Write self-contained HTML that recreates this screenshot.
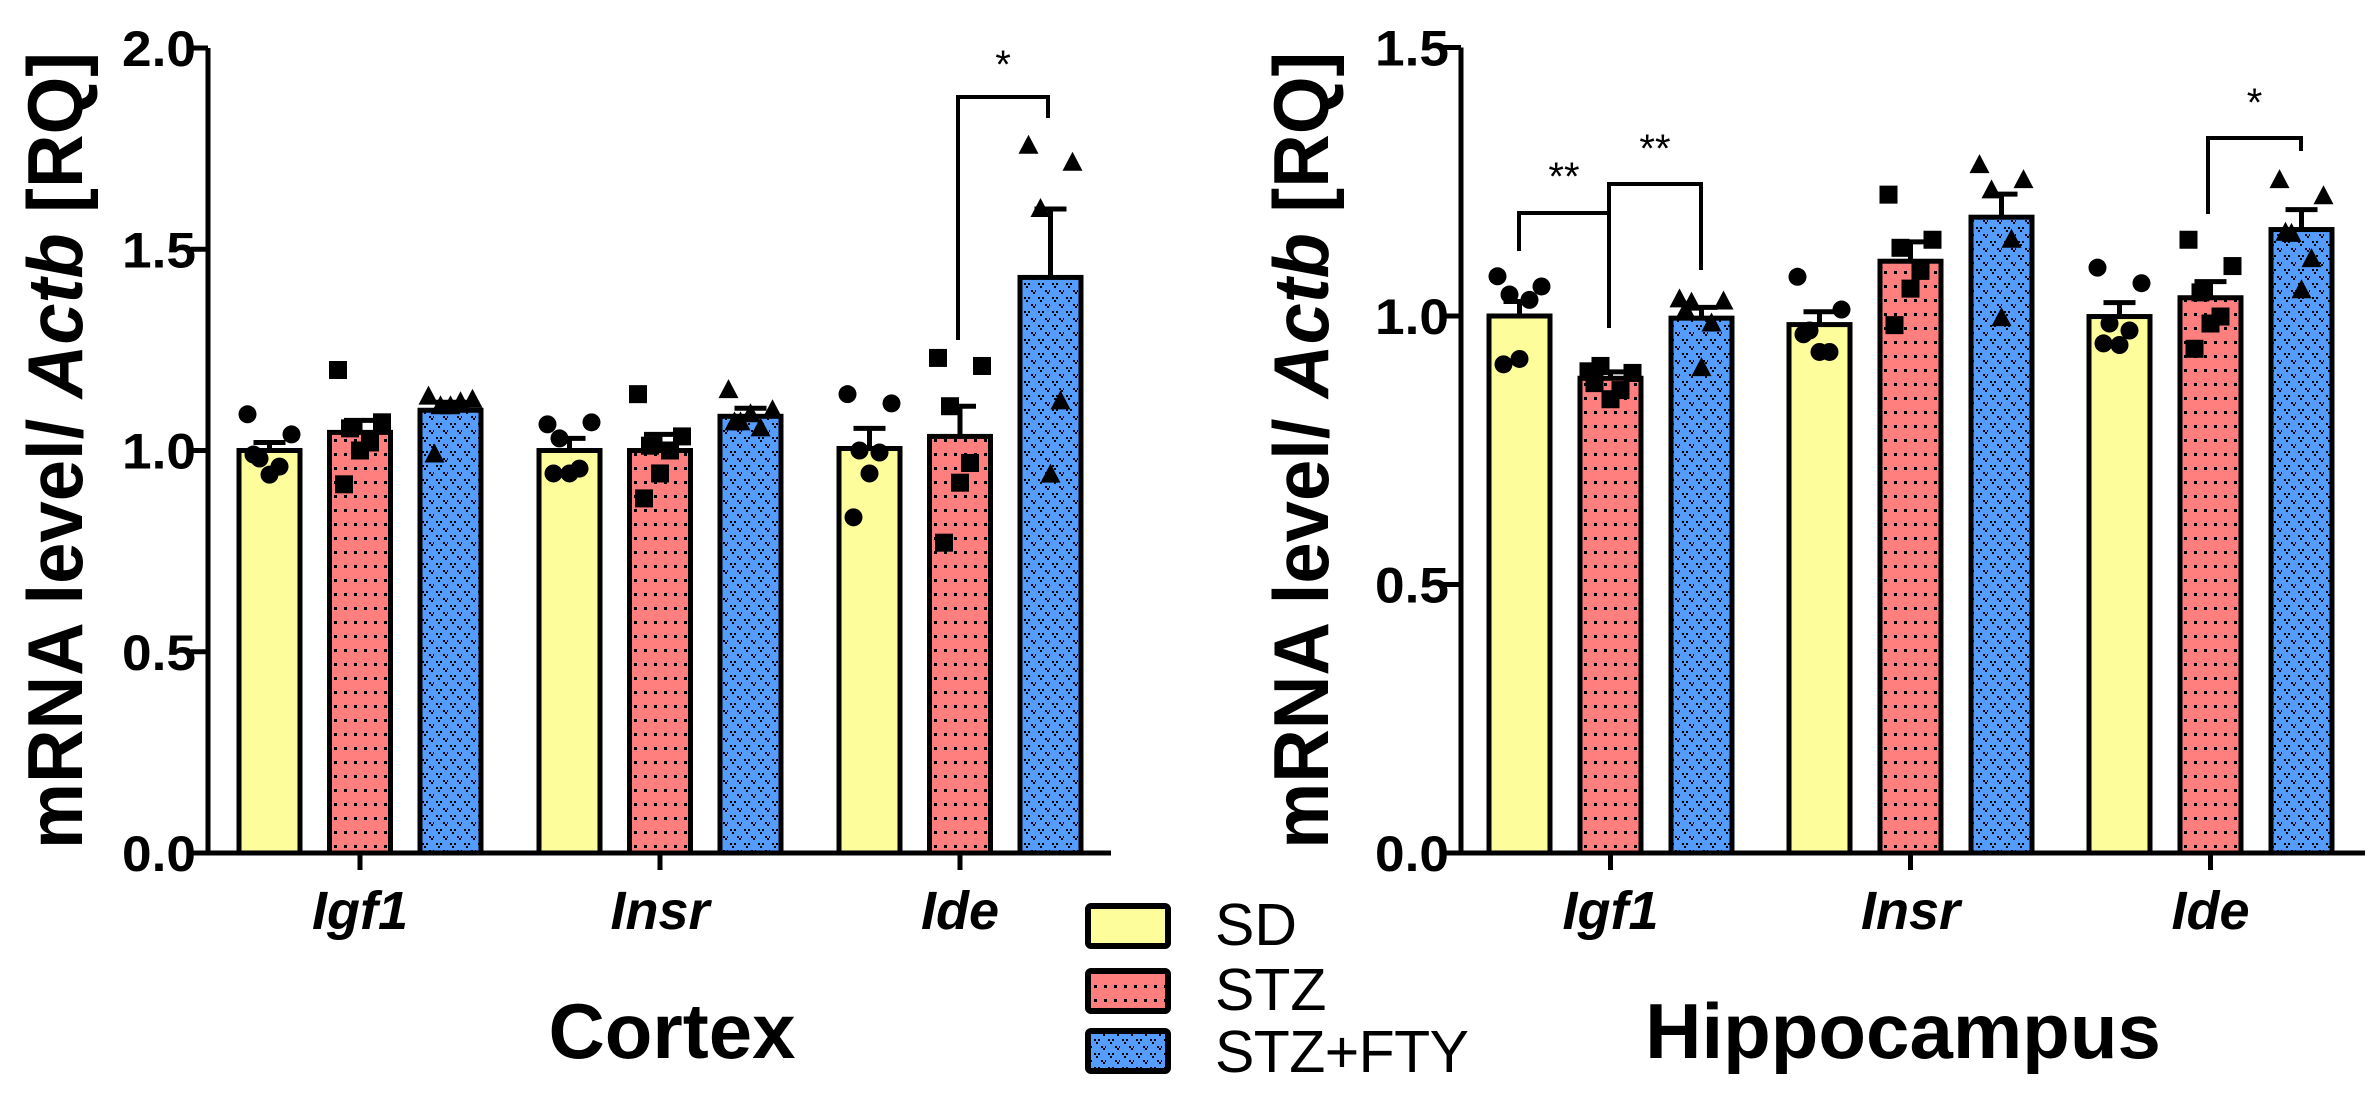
<!DOCTYPE html>
<html><head><meta charset="utf-8"><style>
html,body{margin:0;padding:0;background:#fff;}
svg{display:block;font-family:"Liberation Sans",Arial,sans-serif;}
</style></head><body>
<svg id="fig" width="2378" height="1100" viewBox="0 0 2378 1100" xmlns="http://www.w3.org/2000/svg">
<defs>
<pattern id="pRed" width="10" height="14" patternUnits="userSpaceOnUse">
<rect width="10" height="14" fill="#ff7f7f"/><rect x="4" y="5" width="3" height="3" fill="#000"/>
</pattern>
<pattern id="pBlue" width="14" height="14" patternUnits="userSpaceOnUse">
<rect width="14" height="14" fill="#559cff"/>
<rect x="2" y="3" width="2" height="2" fill="#000"/><rect x="6" y="3" width="2" height="2" fill="#000"/><rect x="4" y="6" width="2" height="2" fill="#000"/>
<rect x="9" y="10" width="2" height="2" fill="#000"/><rect x="13" y="10" width="1" height="2" fill="#000"/><rect x="11" y="12" width="2" height="2" fill="#000"/>
</pattern>
</defs>
<g id="left"></g>
<g id="right"></g>
<g>
<rect x="1088" y="906" width="80" height="40" rx="3" fill="#fdfd9c" stroke="#000" stroke-width="6"/>
<text x="1215" y="945" font-size="59">SD</text>
<rect x="1088" y="971" width="80" height="40" rx="3" fill="url(#pRed)" stroke="#000" stroke-width="6"/>
<text x="1215" y="1010" font-size="59">STZ</text>
<rect x="1088" y="1031" width="80" height="40" rx="3" fill="url(#pBlue)" stroke="#000" stroke-width="6"/>
<text x="1215" y="1072" font-size="59" textLength="254">STZ+FTY</text>
</g>
</svg>
<script>
const categories = ["Igf1","Insr","Ide"];
const groups = ["SD","STZ","STZ+FTY"];
// Cortex
const cortexMeans = [[1.0,1.045,1.10],[1.0,1.0,1.085],[1.005,1.035,1.43]];
const cortexSEM = [[0.02,0.03,0.02],[0.03,0.04,0.02],[0.05,0.075,0.17]];
const cortexPoints = [
 [[1.09,1.04,0.98,0.96,0.94,0.99],[1.2,1.07,1.055,1.02,1.0,0.916],[1.134,1.126,1.11,1.12,1.11,0.99]],
 [[1.065,1.07,1.03,0.955,0.943,0.943],[1.14,1.035,1.012,1.0,0.943,0.881],[1.15,1.1,1.07,1.055,1.09,1.07]],
 [[1.14,1.117,1.0,0.995,0.943,0.834],[1.23,1.21,1.11,0.969,0.92,0.771],[1.757,1.715,1.6,1.122,0.94]]
];
const cortexTicks = [0,0.5,1.0,1.5,2.0];
const cortexTickLabels = ["0.0","0.5","1.0","1.5","2.0"];
// Hippocampus
const hippoMeans = [[1.0,0.884,0.996],[0.984,1.102,1.184],[0.999,1.034,1.161]];
const hippoSEM = [[0.027,0.012,0.02],[0.024,0.036,0.043],[0.026,0.03,0.037]];
const hippoPoints = [
 [[1.074,1.055,1.04,1.03,0.92,0.91],[0.897,0.894,0.907,0.862,0.845,0.875],[1.031,1.027,1.025,0.986,0.903,1.01]],
 [[1.073,1.012,0.973,0.933,0.933,0.966],[1.226,1.142,1.127,1.084,1.051,0.983],[1.281,1.253,1.234,1.142,0.996]],
 [[1.09,1.061,0.986,0.973,0.946,0.949],[1.142,1.093,1.044,0.999,0.986,0.939],[1.253,1.223,1.153,1.106,1.048,1.155]]
];
const hippoTicks = [0,0.5,1.0,1.5];
const hippoTickLabels = ["0.0","0.5","1.0","1.5"];

const NS = "http://www.w3.org/2000/svg";
function mk(tag, attrs, parent){const e=document.createElementNS(NS,tag);for(const k in attrs)e.setAttribute(k,attrs[k]);parent.appendChild(e);return e;}
const fills = ["#fdfd9c","url(#pRed)","url(#pBlue)"];
const jit = [-22,22,-10,10,0,-16];

function draw(g, cfg, means, sem, pts, ticks, tickLabels){
  const y = v => cfg.y0 - v*cfg.unit;
  const xBar = (c,s) => cfg.gx0 + c*cfg.gstep + s*cfg.bstep;
  means.forEach((row,c)=>row.forEach((m,s)=>{
    const bx = xBar(c,s);
    const r = mk("rect",{x:bx,y:y(m),width:cfg.bw,height:cfg.y0-y(m),fill:fills[s],stroke:"#000","stroke-width":5},g);
    
    
    const cx = bx+cfg.bw/2, top=y(m+sem[c][s]);
    const eb = mk("path",{d:`M${cx} ${y(m)}V${top}M${cx-16} ${top}H${cx+16}`,stroke:"#000","stroke-width":5,fill:"none"},g);
    
    
  }));
  pts.forEach((row,c)=>row.forEach((arr,s)=>arr.forEach((v,i)=>{
    const cx = xBar(c,s)+cfg.bw/2+jit[i%jit.length], cy=y(v);
    let p;
    if(s===0) p=mk("circle",{cx:cx,cy:cy,r:9,fill:"#000"},g);
    else if(s===1) p=mk("rect",{x:cx-9,y:cy-9,width:18,height:18,fill:"#000"},g);
    else p=mk("path",{d:`M${cx} ${cy-11}L${cx+10} ${cy+8}L${cx-10} ${cy+8}Z`,fill:"#000"},g);
    
    
  })));
  const ax = mk("path",{d:`M${cfg.ax} ${y(ticks[ticks.length-1])}V${cfg.y0}H${cfg.xend}`,stroke:"#000","stroke-width":5,fill:"none"},g);
  
  
  ticks.forEach((t,i)=>{
    const tk = mk("path",{d:`M${cfg.ax-17} ${y(t)}H${cfg.ax}`,stroke:"#000","stroke-width":5},g);
    
    
    const tl = mk("text",{x:cfg.ax-12,y:y(t)+18,"font-size":50,"font-weight":"bold","text-anchor":"end",textLength:74,lengthAdjust:"spacingAndGlyphs"},g);
    tl.textContent = tickLabels[i];
    
    
  });
  categories.forEach((cName,c)=>{
    const cx = xBar(c,1)+cfg.bw/2;
    const tk = mk("path",{d:`M${cx} ${cfg.y0}V${cfg.y0+17}`,stroke:"#000","stroke-width":5},g);
    
    
    const tl = mk("text",{x:cx,y:cfg.y0+76,"font-size":54,"font-weight":"bold","font-style":"italic","text-anchor":"middle"},g);
    tl.textContent = cName;
    
    
  });
  const yt = mk("text",{transform:`translate(${cfg.ytx} ${(y(ticks[ticks.length-1])+cfg.y0)/2}) rotate(-90)`,"font-size":78,"font-weight":"bold","text-anchor":"middle",textLength:797,lengthAdjust:"spacingAndGlyphs"},g);
  yt.innerHTML = 'mRNA level/ <tspan font-style="italic">Actb</tspan> [RQ]';
  
  
  const tt = mk("text",{x:cfg.titleX,y:1058,"font-size":78,"font-weight":"bold","text-anchor":"middle"},g);
  tt.textContent = cfg.title;
  
  
  return {y, xBar};
}
function bracket(g, x1, x2, top, l1, l2, label, ly){
  const b = mk("path",{d:`M${x1} ${l1}V${top}H${x2}V${l2}`,stroke:"#000","stroke-width":4,fill:"none"},g);
  
  
  const t = mk("text",{x:(x1+x2)/2,y:ly,"font-size":40,"text-anchor":"middle"},g);
  t.textContent = label;
  
  
}
const L = document.getElementById('left'), R = document.getElementById('right');
draw(L,{y0:853,unit:402.5,gx0:239,gstep:300,bstep:90.5,bw:61,ax:208,xend:1111,ytx:82,titleX:672,title:"Cortex"},cortexMeans,cortexSEM,cortexPoints,cortexTicks,cortexTickLabels);
draw(R,{y0:853,unit:537,gx0:1489,gstep:300,bstep:91,bw:61,ax:1461,xend:2365,ytx:1328,titleX:1903,title:"Hippocampus"},hippoMeans,hippoSEM,hippoPoints,hippoTicks,hippoTickLabels);
bracket(L,958,1048,97,340,118,"*",78);
bracket(R,1519,1609,213,251,328,"**",190);
bracket(R,1609,1701,184,328,270,"**",162);
bracket(R,2208,2301,138,214,151,"*",116);
</script>
</body></html>
